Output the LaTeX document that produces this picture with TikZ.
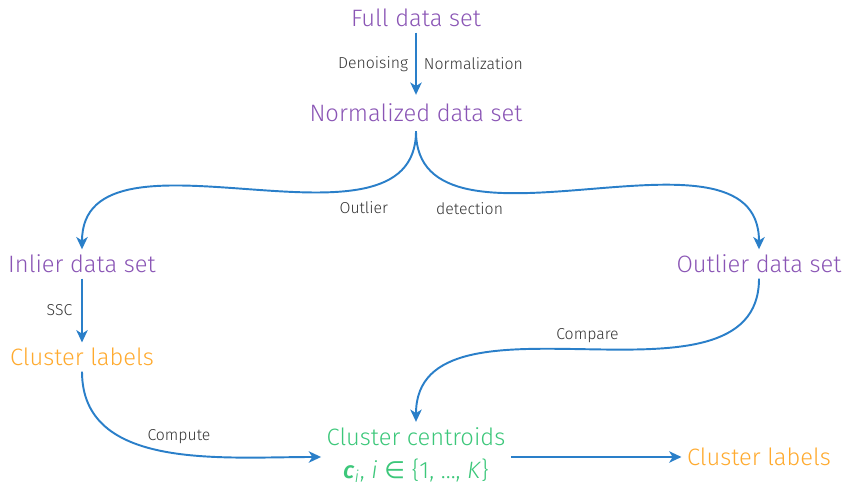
\documentclass[tikz,border=0pt]{standalone}
\usepackage{fontspec}
\setmainfont{Fira Sans}[UprightFont=* Light, ItalicFont=* Light Italic, BoldFont=* Medium, BoldItalicFont=* Medium Italic]
\newfontfamily\symfont{DejaVu Sans}
\usetikzlibrary{arrows.meta}

\definecolor{setpurple}{HTML}{8A55B5}
\definecolor{labelorange}{HTML}{FFAA2E}
\definecolor{centgreen}{HTML}{3CC77A}
\definecolor{flowblue}{HTML}{2A7FC9}
\definecolor{stepgray}{HTML}{333333}

\tikzset{
  dataset/.style={text=setpurple, font=\fontsize{13.5}{16}\selectfont, inner sep=3pt},
  labelset/.style={text=labelorange, font=\fontsize{13.5}{16}\selectfont, inner sep=3pt},
  flow/.style={draw=flowblue, line width=1.1pt, -{Stealth[length=7pt,width=6.5pt,inset=2pt]}},
  steptext/.style={text=stepgray, font=\fontsize{9}{11}\selectfont, inner sep=2pt}
}

\begin{document}
\begin{tikzpicture}[x=0.02cm, y=-0.02cm]
    \useasboundingbox (0,0) rectangle (846,486);

    % the data sets
    \node[dataset] (full) at (416,18) {Full data set};
    \node[dataset, inner sep=5pt] (norm) at (416,113) {Normalized data set};
    \node[dataset] (inlier) at (82,264) {Inlier data set};
    \node[dataset] (outlier) at (759,264) {Outlier data set};

    % clustering results
    \node[labelset] (inlabels) at (82,357) {Cluster labels};
    \node[text=centgreen, font=\fontsize{13.5}{16}\selectfont, align=center, inner sep=3pt] (centroids) at (416,455)
        {Cluster centroids\\[3pt] \textbf{\textit{c}}\textsubscript{\textit{i}}, \textit{i} {\symfont∈} \{1, …, \textit{K}\}};
    \node[labelset] (outlabels) at (759,457) {Cluster labels};

    % preprocessing
    \draw[flow] (full) -- (norm)
        node[steptext, midway, left=2pt] (denoise) {Denoising}
        node[steptext, midway, right=2pt] (normal) {Normalization};

    % splitting off the outliers
    \draw[flow] (norm.south) to[out=-90, in=90]
        node[steptext, pos=0.25, below=5pt] (outl) {Outlier} (inlier.north);
    \draw[flow] (norm.south) to[out=-90, in=90]
        node[steptext, pos=0.25, below=5pt] (detect) {detection} (outlier.north);

    \draw[flow] (inlier) -- node[steptext, left=3pt] (ssc) {SSC} (inlabels);
    \draw[flow] (inlabels.south) to[out=-90, in=180]
        node[steptext, pos=0.55, above=3pt] (compute) {Compute} (centroids.west |- outlabels.west);
    \draw[flow] (outlier.south) to[out=-90, in=90]
        node[steptext, midway, above=2pt] (compare) {Compare} (centroids.north);
    \draw[flow] (centroids.east |- outlabels.west) -- (outlabels.west);
\end{tikzpicture}
\end{document}
